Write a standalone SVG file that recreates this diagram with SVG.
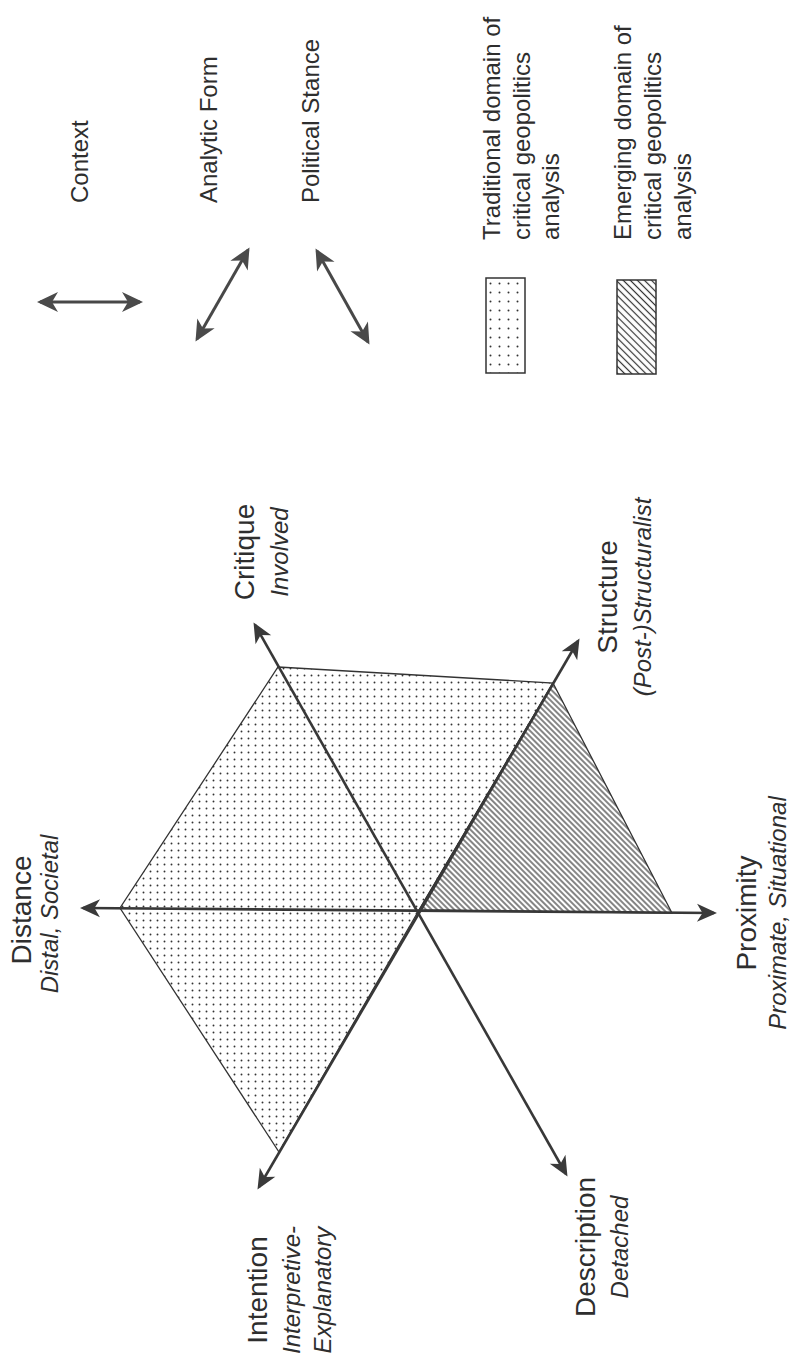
<svg xmlns="http://www.w3.org/2000/svg" width="793" height="1360" viewBox="0 0 793 1360">
<style>
  .lbl{font-family:"Liberation Sans",Arial,sans-serif;fill:#2e2e2e;}
  .main{font-size:28px;}
  .sub{font-size:24px;font-style:italic;}
  .leg{font-size:24px;}
  .axis{stroke:#383838;stroke-width:2.6;fill:none;}
  .big{stroke:#484848;stroke-width:3;fill:none;}
  .edge{stroke:#333;stroke-width:1.3;}
</style>
<defs>
  <pattern id="dots" width="7" height="7" patternUnits="userSpaceOnUse">
    <circle cx="3.5" cy="3.5" r="0.95" fill="#333"/>
  </pattern>
  <pattern id="dotsLeg" width="9" height="9" patternUnits="userSpaceOnUse">
    <circle cx="4.5" cy="4.5" r="1" fill="#333"/>
  </pattern>
  <pattern id="hatch" width="4" height="4" patternUnits="userSpaceOnUse" patternTransform="rotate(45)">
    <line x1="0" y1="2" x2="4" y2="2" stroke="#333" stroke-width="1.2"/>
  </pattern>
  <pattern id="hatchLeg" width="5" height="5" patternUnits="userSpaceOnUse" patternTransform="rotate(45)">
    <line x1="0" y1="2.5" x2="5" y2="2.5" stroke="#333" stroke-width="1.2"/>
  </pattern>
  <marker id="ah" viewBox="-20 -11 24 22" refX="0" refY="0" markerWidth="24" markerHeight="22" markerUnits="userSpaceOnUse" orient="auto-start-reverse">
    <path d="M3,0 L-17,-9 L-11.5,0 L-17,9 Z" fill="#3a3a3a"/>
  </marker>
  <marker id="ahBig" viewBox="-22 -12 26 24" refX="0" refY="0" markerWidth="26" markerHeight="24" markerUnits="userSpaceOnUse" orient="auto-start-reverse">
    <path d="M3,0 L-18,-10 L-12,0 L-18,10 Z" fill="#4a4a4a"/>
  </marker>
</defs>
<rect width="793" height="1360" fill="#fff"/>

<!-- key arrows (top left) -->
<g id="key-arrows">
  <line class="big" x1="40" y1="302" x2="140" y2="302" marker-start="url(#ahBig)" marker-end="url(#ahBig)"/>
  <line class="big" x1="197" y1="339" x2="248" y2="250" marker-start="url(#ahBig)" marker-end="url(#ahBig)"/>
  <line class="big" x1="317" y1="251" x2="368" y2="342" marker-start="url(#ahBig)" marker-end="url(#ahBig)"/>
</g>
<g id="key-labels" class="lbl leg">
  <text transform="translate(88,203) rotate(-90)">Context</text>
  <text transform="translate(217,203) rotate(-90)">Analytic Form</text>
  <text transform="translate(319,203) rotate(-90)">Political Stance</text>
</g>

<!-- legend -->
<g id="legend-traditional">
  <rect x="486" y="278" width="39" height="95" fill="url(#dotsLeg)" stroke="#333" stroke-width="1.5"/>
  <text class="lbl leg" transform="translate(500,240) rotate(-90)">
    <tspan x="0" y="0">Traditional domain of</tspan>
    <tspan x="0" y="29.5">critical geopolitics</tspan>
    <tspan x="0" y="59">analysis</tspan>
  </text>
</g>
<g id="legend-emerging">
  <rect x="617" y="280" width="39" height="94" fill="url(#hatchLeg)" stroke="#333" stroke-width="1.5"/>
  <text class="lbl leg" transform="translate(631,240) rotate(-90)">
    <tspan x="0" y="0">Emerging domain of</tspan>
    <tspan x="0" y="30">critical geopolitics</tspan>
    <tspan x="0" y="60">analysis</tspan>
  </text>
</g>

<!-- domains -->
<g id="traditional-domain">
  <polygon points="278,667 553,683 419,910 279,1152 120,908" fill="url(#dots)" class="edge"/>
</g>
<g id="emerging-domain">
  <polygon points="553,683 672,913 419,910" fill="url(#hatch)" class="edge"/>
</g>

<!-- axes -->
<g id="connectors">
  <line class="axis" x1="83" y1="908" x2="714" y2="913" marker-start="url(#ah)" marker-end="url(#ah)"/>
  <line class="axis" x1="255" y1="625" x2="566" y2="1174" marker-start="url(#ah)" marker-end="url(#ah)"/>
  <line class="axis" x1="578" y1="641" x2="259" y2="1187" marker-start="url(#ah)" marker-end="url(#ah)"/>
</g>

<!-- axis labels -->
<g id="label-distance" class="lbl" text-anchor="middle" transform="translate(31,910) rotate(-90)">
  <text class="main" x="0" y="0">Distance</text>
  <text class="sub" x="-4" y="27">Distal, Societal</text>
</g>
<g id="label-critique" class="lbl" text-anchor="middle" transform="translate(254,552) rotate(-90)">
  <text class="main" x="0" y="0">Critique</text>
  <text class="sub" x="0" y="34">Involved</text>
</g>
<g id="label-structure" class="lbl" text-anchor="middle" transform="translate(617,597) rotate(-90)">
  <text class="main" x="0" y="0">Structure</text>
  <text class="sub" x="0" y="34">(Post-)Structuralist</text>
</g>
<g id="label-proximity" class="lbl" text-anchor="middle" transform="translate(756,913) rotate(-90)">
  <text class="main" x="0" y="0">Proximity</text>
  <text class="sub" x="0" y="30">Proximate, Situational</text>
</g>
<g id="label-description" class="lbl" text-anchor="middle" transform="translate(595,1247) rotate(-90)">
  <text class="main" x="0" y="0">Description</text>
  <text class="sub" x="0" y="33">Detached</text>
</g>
<g id="label-intention" class="lbl" text-anchor="middle" transform="translate(267,1290) rotate(-90)">
  <text class="main" x="0" y="0">Intention</text>
  <text class="sub" x="0" y="33">Interpretive-</text>
  <text class="sub" x="0" y="64">Explanatory</text>
</g>
</svg>
